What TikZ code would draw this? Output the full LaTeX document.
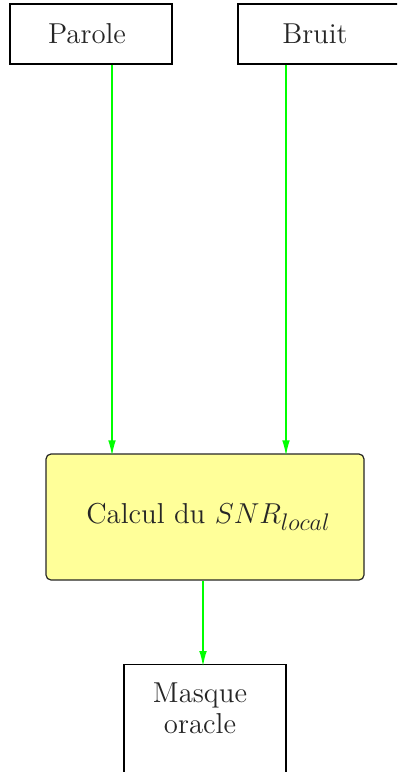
\documentclass[tikz,border=0pt]{standalone}
\usetikzlibrary{arrows.meta}
\DeclareMathSizes{14.4}{14.4}{12}{9}
\begin{document}
\begin{tikzpicture}[x=0.5pt,y=-0.5pt,
  txt/.style={text=black!85, font=\fontsize{14.4}{15.5}\selectfont},
  plainbox/.style={draw=black, line width=0.6pt, minimum width=81pt, minimum height=30pt, inner sep=0pt, txt},
  calcbox/.style={draw=black!85, line width=0.6pt, fill={rgb,255:red,255;green,255;blue,153}, rounded corners=2.5pt, minimum width=159pt, minimum height=63pt, inner sep=0pt, txt},
  arr/.style={draw={rgb,255:red,0;green,255;blue,0}, line width=1pt, shorten >=-1.5pt, -{Latex[length=8pt,width=3.8pt]}}]
\clip (0,0) rectangle (397,772);
\node[plainbox] (parole) at (91,34) {Parole\kern4pt};
\node[plainbox] (bruit) at (319,34) {Bruit\kern4pt};
\node[calcbox] (calc) at (205,517) {\kern3.5pt Calcul du $SNR_{local}$};
\node[plainbox, minimum height=75pt, anchor=north] (masque) at (205,664) {};
\node[txt, align=center, anchor=north, inner sep=0pt] (masquetxt) at (200,682) {Masque\\oracle};
\draw[arr] ([xshift=10.5pt]parole.south) -- ([xshift=10.5pt]parole.south |- calc.north);
\draw[arr] ([xshift=-16.5pt]bruit.south) -- ([xshift=-16.5pt]bruit.south |- calc.north);
\draw[arr] ([xshift=-1pt]calc.south) -- ([xshift=-1pt]calc.south |- masque.north);
\end{tikzpicture}
\end{document}
